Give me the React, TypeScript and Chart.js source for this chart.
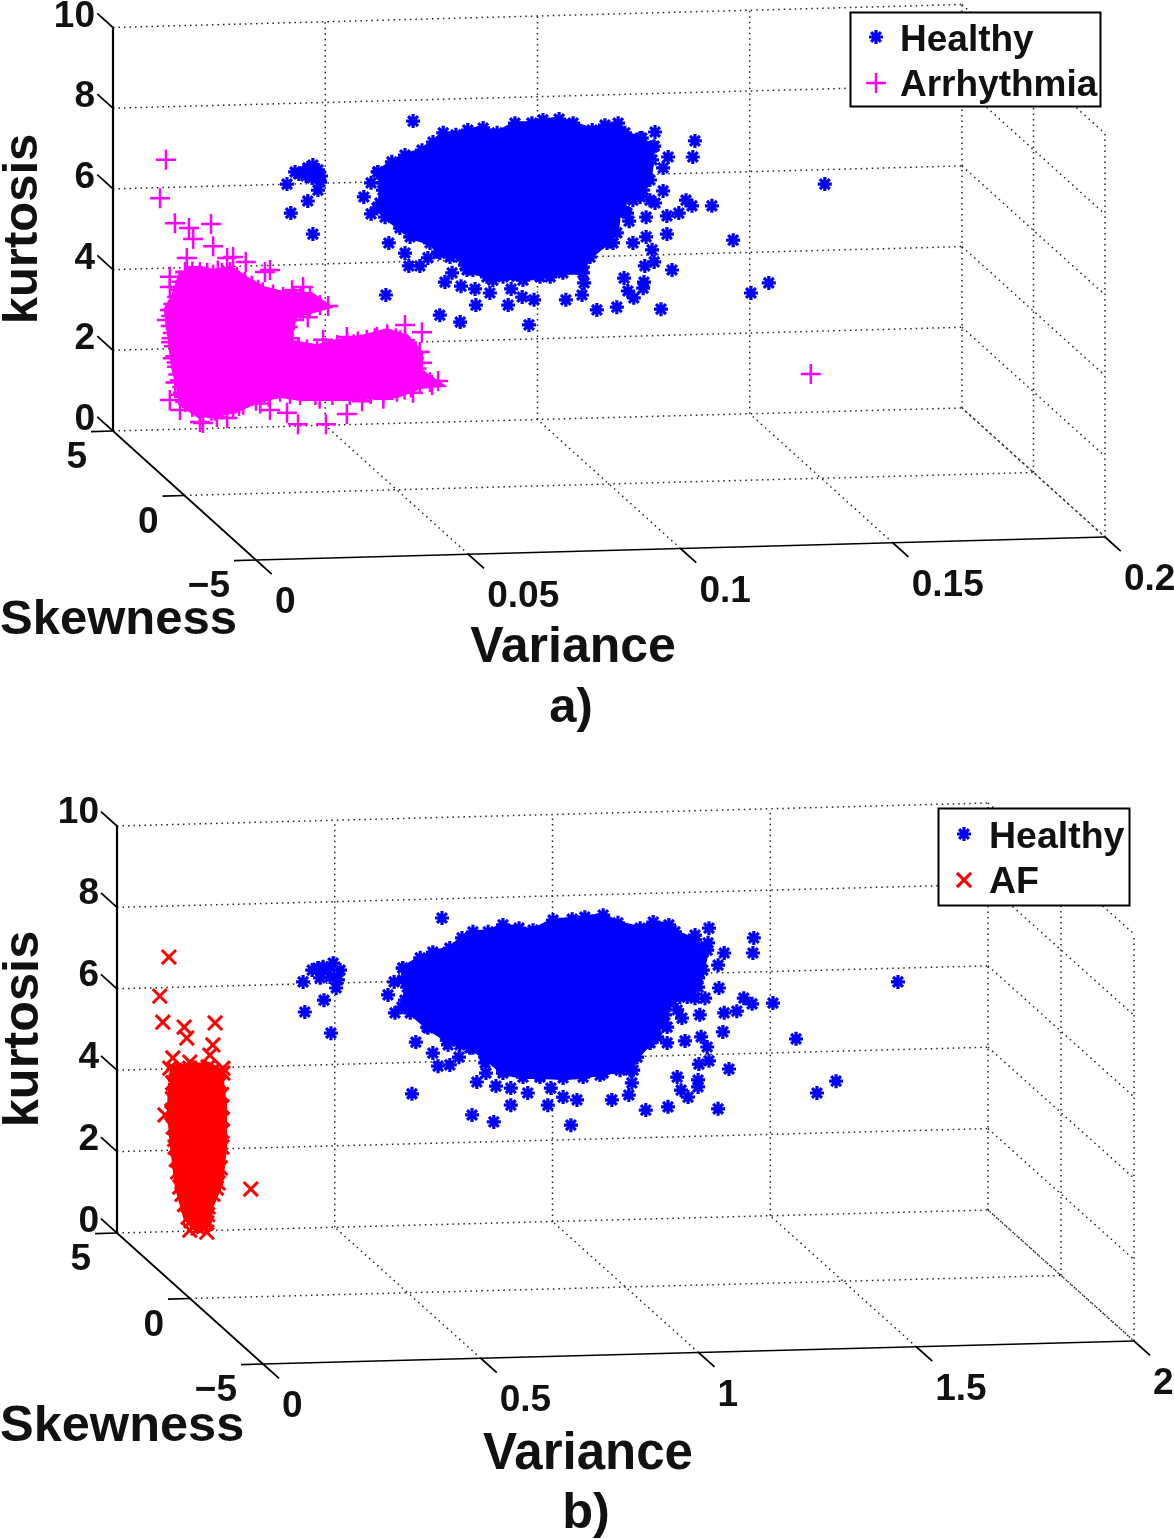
import React, { useEffect, useRef } from "react";
import { Chart, registerables } from "chart.js";
import { drawPoint } from "chart.js/helpers";

Chart.register(...registerables);

type P = [number, number];

const kurtTicks = [0, 2, 4, 6, 8, 10];
const skewTicks = [5, 0, -5];
const skewLabels = ["5", "0", "\u22125"];
const varTicksA = [0, 0.05, 0.1, 0.15, 0.2];
const varLabelsA = ["0", "0.05", "0.1", "0.15", "0.2"];
const varTicksB = [0, 0.5, 1, 1.5, 2];
const varLabelsB = ["0", "0.5", "1", "1.5", "2"];

// Marks as read on the picture plane: [variance along the front axis, kurtosis on the rear axis]
const healthyCoreA: P[] = [[.0287,6.42],[.0320,6.67],[.0351,6.84],[.0391,6.96],[.0417,7.16],[.0441,7.39],[.0471,7.34],[.0499,7.46],[.0535,7.51],[.0568,7.39],[.0610,7.63],[.0650,7.63],[.0676,7.71],[.0714,7.73],[.0747,7.63],[.0792,7.46],[.0822,7.58],[.0853,7.63],[.0869,7.39],[.0905,7.26],[.0935,7.04],[.0933,6.72],[.0928,6.22],[.0912,5.97],[.0888,5.80],[.0857,5.55],[.0850,4.91],[.0827,4.66],[.0787,4.31],[.0770,4.06],[.0770,3.92],[.0723,3.92],[.0669,3.82],[.0629,3.74],[.0582,3.82],[.0544,3.82],[.0497,3.99],[.0481,4.31],[.0433,4.41],[.0410,4.66],[.0363,4.81],[.0339,5.03],[.0304,5.30],[.0285,5.53],[.0299,5.97],[.0287,6.42]];
const healthyScatterA: P[] = [[.0370,7.68],[.0254,5.80],[.0271,6.15],[.0271,5.38],[.0313,4.66],[.0351,4.41],[.0360,4.09],[.0386,4.09],[.0405,4.29],[.0306,3.37],[.0433,2.87],[.0481,2.70],[.0445,3.69],[.0462,3.92],[.0483,3.59],[.0516,3.52],[.0551,3.42],[.0518,3.12],[.0594,3.12],[.0601,3.52],[.0627,3.32],[.0655,3.25],[.0643,2.63],[.0730,3.25],[.0768,3.37],[.0773,3.67],[.0803,3.00],[.0850,3.07],[.0890,3.30],[.0876,3.47],[.0912,3.54],[.0914,3.69],[.0867,3.79],[.0954,3.02],[.0980,3.99],[.0916,4.09],[.0938,4.19],[.0933,4.49],[.0919,4.81],[.0888,4.66],[.0968,4.88],[.0919,5.30],[.0879,5.20],[.0869,5.43],[.0968,5.33],[.0996,5.40],[.1013,5.72],[.1027,5.58],[.1074,5.58],[.1124,4.73],[.0959,5.95],[.0940,5.65],[.1029,6.79],[.1034,7.19],[.0971,6.79],[.0959,6.52],[.0938,7.06],[.0940,7.41],[.0909,7.26],[.1340,6.12],[.1208,3.67],[.1166,3.42],[.0073,6.12],[.0122,5.70],[.0082,5.40],[.0134,4.88],[.0092,6.42],[.0101,6.37],[.0113,6.42],[.0122,6.52],[.0134,6.59],[.0146,6.47],[.0153,6.32],[.0151,6.17],[.0146,5.97],[.0132,6.27],[.0118,6.32],[.0141,6.32]];
const healthyEdgeA: P[] = [[.0881,6.22],[.0898,6.15],[.0912,6.29],[.0905,5.80],[.0928,5.72],[.0888,5.72],[.0857,5.72],[.0869,6.15],[.0839,5.40],[.0874,5.40],[.0841,4.66],[.0822,4.73],[.0794,4.56],[.0770,4.49],[.0763,4.16],[.0693,3.82],[.0605,3.87],[.0558,3.74],[.0511,3.99],[.0492,4.11],[.0457,4.31],[.0429,4.44],[.0292,5.65],[.0299,6.15]];
const arrhythmiaCoreA: P[] = [[-.0167,3.94],[-.0132,3.94],[-.0101,3.87],[-.0061,3.94],[-.0026,3.69],[.0016,3.44],[.0064,3.32],[.0127,3.30],[.0151,3.12],[.0127,3.05],[.0087,2.95],[.0075,2.58],[.0075,2.13],[.0144,2.00],[.0191,2.13],[.0261,2.26],[.0309,2.40],[.0351,2.25],[.0375,1.96],[.0375,1.46],[.0410,1.21],[.0386,1.19],[.0332,.97],[.0221,.89],[.0104,.89],[.0057,.97],[.0000,.84],[-.0054,.57],[-.0097,.50],[-.0132,.47],[-.0167,.72],[-.0174,1.09],[-.0186,1.59],[-.0196,2.43],[-.0203,3.00],[-.0186,3.32],[-.0167,3.94]];
const arrhythmiaScatterA: P[] = [[-.0212,6.72],[-.0226,5.77],[-.0191,5.15],[-.0158,5.03],[-.0106,5.13],[-.0148,4.76],[-.0101,4.58],[-.0163,4.29],[-.0203,3.82],[-.0203,3.57],[-.0068,4.29],[-.0054,4.31],[-.0024,4.19],[.0033,3.99],[.0021,3.94],[.0085,3.49],[.0111,3.57],[.0170,3.10],[.0122,2.82],[.0158,2.26],[.0214,2.33],[.0351,2.63],[.0391,2.45],[.0386,1.96],[.0391,1.69],[.0429,1.24],[.0415,1.14],[.0214,.42],[.0165,.17],[.0099,.17],[.0073,.45],[.0033,.52],[-.0068,.32],[-.0125,.20],[-.0132,.22],[-.0092,.35],[-.0179,.52],[-.0210,2.75],[-.0203,.77],[.1307,1.41],[-.0200,2.2],[-.0196,1.8],[-.0190,1.2],[-.0180,.9],[-.0150,.6],[-.0040,.62],[.0010,.68],[.0150,.8],[.0250,.74],[.0300,.8],[.0370,.95],[.0340,2.25],[.0280,2.3],[.0230,2.15],[.0100,2.05],[.0050,3.15],[-.0090,3.98],[-.0150,3.85]];
const arrhythmiaEdgeA: P[] = [[-.0200,2.85],[-.0201,2.6],[-.0199,2.3],[-.0193,2.1],[-.0190,1.85],[-.0187,1.7],[-.0183,1.4],[-.0180,1.25],[-.0172,.95],[-.0170,.85],[-.0195,3.15],[-.0180,3.5],[-.0175,3.7],[-.0150,3.95],[-.0115,3.92],[-.0080,3.92],[-.0045,3.82],[-.0010,3.6],[.0005,3.5],[.0040,3.38],[.0090,3.32],[.0105,3.3],[.0110,2.98],[.0090,2.75],[.0080,2.3],[.0100,2.05],[.0120,2.02],[.0165,2.05],[.0215,2.2],[.0240,2.22],[.0285,2.33],[.0330,2.3],[.0355,2.15],[.0372,1.8],[.0378,1.55],[.0390,1.35],[.0365,1.08],[.0350,1.03],[.0300,.95],[.0270,.92],[.0180,.89],[.0140,.89],[.0080,.92],[.0030,.85],[.0000,.75],[-.0030,.65],[-.0080,.53],[-.0105,.50],[-.0150,.6]];

const healthyCoreB: P[] = [[.321,6.51],[.361,6.76],[.390,6.90],[.429,7.00],[.457,7.25],[.482,7.40],[.517,7.40],[.551,7.57],[.588,7.49],[.620,7.44],[.666,7.69],[.710,7.71],[.739,7.76],[.781,7.81],[.815,7.62],[.866,7.49],[.896,7.64],[.932,7.57],[.946,7.40],[.992,7.20],[1.020,6.95],[1.010,6.46],[.999,6.04],[.974,5.80],[.939,5.72],[.919,5.16],[.889,4.67],[.859,4.32],[.843,4.00],[.781,3.93],[.735,3.83],[.689,3.81],[.636,3.83],[.597,3.83],[.551,3.93],[.510,4.32],[.475,4.55],[.422,4.74],[.379,5.04],[.338,5.41],[.319,5.55],[.331,6.04],[.321,6.51]];
const healthyScatterB: P[] = [[.411,7.74],[.287,5.85],[.301,6.17],[.303,5.41],[.351,4.69],[.390,4.42],[.402,4.10],[.429,4.13],[.450,4.32],[.425,4.62],[.342,3.42],[.480,2.90],[.530,2.73],[.491,3.71],[.512,3.93],[.535,3.61],[.569,3.56],[.569,3.14],[.608,3.44],[.654,3.14],[.661,3.56],[.689,3.34],[.721,3.27],[.707,2.65],[.801,3.27],[.840,3.39],[.847,3.69],[.879,3.02],[.930,3.10],[.976,3.34],[.960,3.51],[.999,3.59],[.999,3.76],[.951,3.83],[1.045,3.05],[1.070,4.03],[1.001,4.15],[1.024,4.23],[1.020,4.57],[1.006,4.82],[.969,4.72],[1.056,4.94],[1.003,5.36],[.962,5.28],[.951,5.48],[1.059,5.41],[1.088,5.45],[1.104,5.77],[1.123,5.63],[1.171,5.65],[1.047,6.02],[1.015,5.77],[1.125,6.88],[1.127,7.25],[1.059,6.88],[1.045,6.58],[1.024,7.49],[1.022,7.13],[.992,7.32],[1.458,6.17],[1.316,3.73],[1.272,3.44],[1.224,4.77],[.092,6.17],[.140,5.72],[.096,5.43],[.156,4.91],[.113,6.46],[.126,6.51],[.138,6.54],[.161,6.63],[.177,6.46],[.172,6.22],[.154,6.29],[.131,6.27],[.168,6.02],[.149,6.46]];
const healthyEdgeB: P[] = [[.957,6.14],[.980,6.22],[.999,6.27],[.957,5.80],[.992,5.77],[.935,5.80],[.912,5.90],[.923,5.36],[.928,5.06],[.905,4.82],[.928,4.67],[.884,4.69],[.850,4.57],[.843,4.25],[.850,4.00],[.820,4.00],[.774,3.88],[.636,3.88],[.551,4.00],[.510,4.18],[.482,4.55],[.452,4.62],[.377,5.06],[.326,5.72],[.321,6.22]];
const afCoreB: P[] = [[-.207,3.69],[-.209,2.95],[-.202,2.11],[-.191,1.13],[-.172,.39],[-.149,.12],[-.129,.25],[-.126,.64],[-.103,1.23],[-.094,2.11],[-.094,3.10],[-.103,3.93],[-.126,4.08],[-.168,4.05],[-.202,4.00],[-.207,3.69]];
const afScatterB: P[] = [[-.216,6.78],[-.237,5.82],[-.230,5.18],[-.181,5.06],[-.175,4.79],[-.110,5.16],[-.115,4.62],[-.207,4.30],[-.168,4.20],[-.122,4.37],[-.092,4.05],[-.214,4.05],[-.028,1.08],[-.168,.07],[-.129,.02],[-.225,2.90],[-.092,3.93]];
const afEdgeB: P[] = [[-.208,3.3],[-.209,3.0],[-.206,2.6],[-.203,2.3],[-.199,1.8],[-.196,1.5],[-.186,.95],[-.180,.7],[-.165,.3],[-.157,.2],[-.138,.2],[-.127,.45],[-.115,.95],[-.107,1.1],[-.098,1.6],[-.094,2.5],[-.093,2.8],[-.095,3.4],[-.100,3.7],[-.115,4.0],[-.145,4.05],[-.185,4.02]];

type Panel = {
  top: number; height: number;
  vMax: number; varTicks: number[]; varLabels: string[];
  sx: number; // pixels per variance unit along the front axis
  sy: number; // pixels per kurtosis unit
  ox: number; oy: number; // pixel position of variance 0 and kurtosis 0 on the plane
  slopeV: number; // pixels the front axis rises over one variance unit
  sdx: number; sdy: number; // pixels per skewness unit
  frontDrop: number; // pixels from the rear floor corner to the front floor corner
  other: { core: P[]; scatter: P[]; style: string; color: string; radius: number; width: number; grow: number; name: string };
  healthyCore: P[]; healthyScatter: P[];
  legend: { x: number; y: number; w: number; h: number; mx: number; tx: number; y1: number; y2: number; b1: number; b2: number; size: number };
  title: string; labelSize: number; varSize: number; labelRise: number;
  skewX: number; skewB: number; varX: number; varB: number; titleX: number; titleB: number; kurtB: number; kurtY: number;
};

const panelA: Panel = {
  top: 0, height: 760, vMax: 0.2, varTicks: varTicksA, varLabels: varLabelsA,
  sx: 4245, sy: 40.35, ox: 256, oy: 431, slopeV: 115, sdx: 14.3, sdy: 12.9, frontDrop: 129,
  other: { core: arrhythmiaCoreA, scatter: [...arrhythmiaScatterA, ...arrhythmiaEdgeA], style: "cross", color: "#ff00ff", radius: 10, width: 2.5, grow: 12, name: "Arrhythmia" },
  healthyCore: healthyCoreA, healthyScatter: [...healthyScatterA, ...healthyEdgeA],
  legend: { x: 850.5, y: 12.5, w: 250, h: 94, mx: 876, tx: 900, y1: 37, y2: 83, b1: 51, b2: 96, size: 37 },
  title: "a)", labelSize: 49, varSize: 50, labelRise: 0,
  skewX: 0, skewB: 634, varX: 573, varB: 662, titleX: 571, titleB: 722, kurtB: 37, kurtY: 229,
};

const panelB: Panel = {
  top: 760, height: 779, vMax: 2, varTicks: varTicksB, varLabels: varLabelsB,
  sx: 435.5, sy: 40.7, ox: 263, oy: 473, slopeV: 11.5, sdx: 14.6, sdy: 13.1, frontDrop: 131,
  other: { core: afCoreB, scatter: [...afScatterB, ...afEdgeB], style: "crossRot", color: "#ff0000", radius: 10, width: 3, grow: 10, name: "AF" },
  healthyCore: healthyCoreB, healthyScatter: [...healthyScatterB, ...healthyEdgeB],
  legend: { x: 938.5, y: 48.5, w: 191, h: 97, mx: 964, tx: 989, y1: 74, y2: 120, b1: 88, b2: 133, size: 37.5 },
  title: "b)", labelSize: 50.5, varSize: 51, labelRise: 0.25,
  skewX: 0, skewB: 681, varX: 588, varB: 709, titleX: 586, titleB: 768, kurtB: 38, kurtY: 269,
};

const LABEL = "#111111";
const STAR_RADIUS = 7;
const STAR_WIDTH = 3.2;

function project(p: Panel, v: number, s: number, k: number) {
  const d = s + 5;
  return {
    x: v - (d * p.sdx) / p.sx,
    y: (-p.frontDrop + (v * p.slopeV + d * p.sdy)) / p.sy + k,
  };
}

function gridSegments(p: Panel) {
  const out: { x: number; y: number }[][] = [];
  const V = p.vMax;
  for (const k of kurtTicks) {
    out.push([project(p, 0, 5, k), project(p, V, 5, k)]);
    out.push([project(p, V, 5, k), project(p, V, -5, k)]);
  }
  for (const v of p.varTicks.slice(1)) {
    out.push([project(p, v, 5, 0), project(p, v, 5, 10)]);
    out.push([project(p, v, -5, 0), project(p, v, 5, 0)]);
  }
  for (const s of skewTicks) {
    if (s < 5) out.push([project(p, V, s, 0), project(p, V, s, 10)]);
    if (s < 5 && s > -5) out.push([project(p, 0, s, 0), project(p, V, s, 0)]);
  }
  return out;
}

function axisSegments(p: Panel) {
  const out: { x: number; y: number }[][] = [];
  const V = p.vMax;
  out.push([project(p, 0, 5, 0), project(p, 0, 5, 10)]);
  out.push([project(p, 0, -5, 0), project(p, 0, 5, 0)]);
  out.push([project(p, 0, -5, 0), project(p, V, -5, 0)]);
  for (const k of kurtTicks) out.push([project(p, 0, 5, k), project(p, 0, 6.1, k)]);
  for (const v of p.varTicks) out.push([project(p, v, -5, 0), project(p, v, -6.1, 0)]);
  const back = 22 / p.sx;
  for (const s of skewTicks) out.push([project(p, 0, s, 0), project(p, -back, s, 0)]);
  return out;
}

const xy = (a: P[]) => a.map(([x, y]) => ({ x, y }));

function labelsPlugin(p: Panel) {
  return {
    id: "labels3d",
    afterDraw(chart: any) {
      const ctx = chart.ctx;
      const X = chart.scales.x, Y = chart.scales.y;
      const px = (q: { x: number; y: number }) => ({ x: X.getPixelForValue(q.x), y: Y.getPixelForValue(q.y) });
      ctx.save();
      ctx.fillStyle = LABEL;
      ctx.textBaseline = "alphabetic";
      ctx.font = "bold 37px 'Liberation Sans'";
      ctx.textAlign = "right";
      kurtTicks.forEach((k) => {
        const t = px(project(p, 0, 5, k));
        ctx.fillText(String(k), t.x - 18, t.y - 1 - k * p.labelRise);
      });
      skewTicks.forEach((s, i) => {
        const t = px(project(p, 0, s, 0));
        ctx.fillText(skewLabels[i], t.x - 26, t.y + 37);
      });
      ctx.textAlign = "left";
      p.varTicks.forEach((v, i) => {
        const t = px(project(p, v, -5, 0));
        ctx.fillText(p.varLabels[i], t.x + 19, t.y + 53);
      });
      ctx.font = `bold ${p.labelSize}px 'Liberation Sans'`;
      ctx.fillText("Skewness", p.skewX, p.skewB);
      ctx.textAlign = "center";
      ctx.font = `bold ${p.varSize}px 'Liberation Sans'`;
      ctx.fillText("Variance", p.varX, p.varB);
      ctx.font = `bold ${p.labelSize}px 'Liberation Sans'`;
      ctx.fillText(p.title, p.titleX, p.titleB);
      ctx.save();
      ctx.translate(p.kurtB, p.kurtY);
      ctx.rotate(-Math.PI / 2);
      ctx.fillText("kurtosis", 0, 0);
      ctx.restore();

      const L = p.legend;
      ctx.fillStyle = "#ffffff";
      ctx.fillRect(L.x, L.y, L.w, L.h);
      ctx.strokeStyle = "#000000";
      ctx.lineWidth = 2;
      ctx.strokeRect(L.x, L.y, L.w, L.h);
      ctx.strokeStyle = "#0000ff";
      ctx.fillStyle = "#0000ff";
      ctx.lineWidth = STAR_WIDTH;
      drawPoint(ctx, { pointStyle: "star", radius: STAR_RADIUS, rotation: 0, borderWidth: STAR_WIDTH } as any, L.mx, L.y1);
      ctx.strokeStyle = p.other.color;
      ctx.fillStyle = p.other.color;
      ctx.lineWidth = p.other.width;
      drawPoint(ctx, { pointStyle: p.other.style, radius: p.other.radius, rotation: 0, borderWidth: p.other.width } as any, L.mx, L.y2);
      ctx.fillStyle = LABEL;
      ctx.textAlign = "left";
      ctx.font = `bold ${L.size}px 'Liberation Sans'`;
      ctx.fillText("Healthy", L.tx, L.b1);
      ctx.fillText(p.other.name, L.tx, L.b2);
      ctx.restore();
    },
  };
}

function buildChart(canvas: HTMLCanvasElement, p: Panel) {
  const base = { showLine: false, pointHoverRadius: 0 };
  const cloud = (data: P[], color: string, style: string, radius: number, width: number, grow: number) => ({
    ...base,
    data: xy(data),
    showLine: true,
    fill: "shape",
    backgroundColor: color,
    borderColor: color,
    borderWidth: grow,
    pointStyle: style,
    pointRadius: radius,
    pointBorderColor: color,
    pointBackgroundColor: color,
    pointBorderWidth: width,
    order: 3,
  });
  const scatter = (data: P[], color: string, style: string, radius: number, width: number) => ({
    ...base,
    data: xy(data),
    pointStyle: style,
    pointRadius: radius,
    pointBorderColor: color,
    pointBackgroundColor: color,
    pointBorderWidth: width,
    order: 2,
  });
  const line = (seg: { x: number; y: number }[], width: number, dash: number[], color: string) => ({
    ...base,
    data: seg,
    showLine: true,
    fill: false,
    borderColor: color,
    borderWidth: width,
    borderDash: dash,
    pointRadius: 0,
    order: 10,
  });
  const o = p.other;
  const axes = axisSegments(p);
  const datasets: any[] = [
    scatter(o.scatter, o.color, o.style, o.radius, o.width),
    cloud(o.core, o.color, o.style, o.radius, o.width, o.grow),
    scatter(p.healthyScatter, "#0000ff", "star", STAR_RADIUS, STAR_WIDTH),
    cloud(p.healthyCore, "#0000ff", "star", STAR_RADIUS, STAR_WIDTH, 4),
    ...axes.map((s, i) => line(s, i === 0 ? 2.2 : 1.7, [], "#000000")),
    ...gridSegments(p).map((s) => line(s, 1.5, [1.5, 4], "#222222")),
  ];
  const W = 1174;
  return new Chart(canvas, {
    type: "scatter",
    data: { datasets },
    plugins: [labelsPlugin(p)],
    options: {
      animation: false,
      responsive: false,
      devicePixelRatio: 1,
      layout: { padding: 0, autoPadding: false },
      events: [],
      plugins: { legend: { display: false }, tooltip: { enabled: false } },
      scales: {
        x: { type: "linear", display: false, min: -p.ox / p.sx, max: (W - p.ox) / p.sx },
        y: { type: "linear", display: false, min: (p.oy - p.height) / p.sy, max: p.oy / p.sy },
      },
    },
  } as any);
}

function PanelChart({ panel }: { panel: Panel }) {
  const ref = useRef<HTMLCanvasElement | null>(null);
  useEffect(() => {
    if (!ref.current) return;
    const c = buildChart(ref.current, panel);
    return () => c.destroy();
  }, [panel]);
  return (
    <canvas
      ref={ref}
      width={1174}
      height={panel.height}
      style={{ position: "absolute", left: 0, top: panel.top, width: 1174, height: panel.height, display: "block" }}
    />
  );
}

export default function App() {
  return (
    <div style={{ position: "absolute", left: 0, top: 0, width: 1174, height: 1539, background: "#fff", overflow: "hidden" }}>
      <PanelChart panel={panelA} />
      <PanelChart panel={panelB} />
    </div>
  );
}
